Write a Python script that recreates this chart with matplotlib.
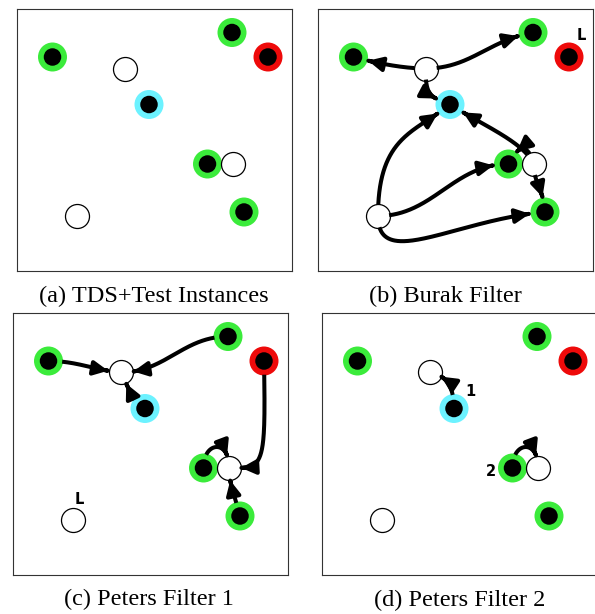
import numpy as np
import matplotlib
matplotlib.use("Agg")
import matplotlib.pyplot as plt
from matplotlib.patches import FancyArrowPatch, ArrowStyle
from matplotlib.path import Path

# ---------------- data ----------------
# node positions (x, y) in panel units (y measured downward from top)
node_x = [35.5, 107.5, 132.0, 215.0, 251.0, 190.5, 215.5, 227.0, 60.0]
node_y = [48.0, 59.5, 95.5, 23.5, 48.0, 155.0, 155.0, 203.0, 207.0]
# node kind: 'g' green, 'w' white (test), 'c' cyan, 'r' red
node_kind = ['g', 'w', 'c', 'g', 'r', 'g', 'w', 'g', 'w']

captions = ["(a) TDS+Test Instances", "(b) Burak Filter",
            "(c) Peters Filter 1", "(d) Peters Filter 2"]

# edges per panel: (source, target)
edges_b = [(1, 0), (1, 3), (1, 2), (8, 2), (8, 5), (8, 7), (6, 2), (6, 5), (6, 7)]
edges_c = [(0, 1), (3, 1), (2, 1), (4, 6), (5, 6), (7, 6)]
edges_d = [(2, 1), (5, 6)]

# curve shape (control offsets from source and target) -- styling
shape_b = [((-22, 0), (22, 6)), ((45, 0), (-45, 8)), ((0, 30), (-18, -8)),
           ((0, -80), (-35, 28)), ((55, 0), (-55, 0)), ((0, 55), (-90, 8)),
           ((-10, -22), (35, 22)), ((-5, -22), (8, -18)), ((0, 18), (0, -18))]
shape_c = [((28, 0), (-28, -3)), ((-45, 0), (45, 0)), ((-14, -8), (6, 9)),
           ((2, 110), (35, 0)), ((0, -28), (2, -28)), ((-3, -12), (0, 12))]
shape_d = [((0, -25), (14, 2)), ((0, -28), (2, -28))]

labels_b = [("L", 263, 26)]
labels_c = [("L", 66, 186)]
labels_d = [("1", 148, 79), ("2", 169, 158)]

# ---------------- style ----------------
W, H = 595, 614
DPI = 100
colors = {'g': '#3BEB3B', 'c': '#6CF2FF', 'r': '#EE0A0A'}
R_RING = 14.5
R_WHITE = 12.0

fig = plt.figure(figsize=(W / DPI, H / DPI), dpi=DPI)

boxes = [(17, 9), (318, 9), (13, 313), (322, 313)]
BW, BH = 275, 262


def pt(px):
    return px * 72.0 / DPI


def draw_nodes(ax):
    for x, y, k in zip(node_x, node_y, node_kind):
        if k == 'w':
            ax.scatter([x], [y], s=pt(2 * R_WHITE) ** 2, c='white',
                       edgecolors='black', linewidths=0.9, zorder=3)
        else:
            ax.scatter([x], [y], s=pt(2 * R_RING) ** 2, c=colors[k],
                       edgecolors='none', zorder=3)
            ax.scatter([x], [y], s=pt(17.5) ** 2, c='black',
                       edgecolors='none', zorder=4)


def radius(i):
    return R_WHITE if node_kind[i] == 'w' else R_RING


def draw_edges(ax, edges, shapes):
    for (s, t), (d1, d2) in zip(edges, shapes):
        p0 = np.array([node_x[s], node_y[s]])
        p3 = np.array([node_x[t], node_y[t]])
        p1 = p0 + np.array(d1)
        p2 = p3 + np.array(d2)
        tt = np.linspace(0, 1, 300)[:, None]
        pts = ((1 - tt) ** 3 * p0 + 3 * (1 - tt) ** 2 * tt * p1
               + 3 * (1 - tt) * tt ** 2 * p2 + tt ** 3 * p3)
        d0 = np.hypot(*(pts - p0).T)
        dd = np.hypot(*(pts - p3).T)
        i0 = np.argmax(d0 >= radius(s) - 1)
        i1 = len(pts) - 1 - np.argmax((dd >= radius(t) + 0.5)[::-1])
        seg = pts[i0:i1 + 1]
        arr = FancyArrowPatch(path=Path(seg),
                              arrowstyle=ArrowStyle('-|>', head_length=0.85,
                                                    head_width=0.42),
                              mutation_scale=10, lw=2.9, color='black',
                              transform=ax.transData, zorder=5,
                              joinstyle='round', capstyle='butt')
        ax.add_patch(arr)


def draw_labels(ax, labels):
    for txt, x, y in labels:
        ax.text(x, y, txt, fontsize=10.5, fontweight='bold', ha='center',
                va='center', family='DejaVu Sans', zorder=6)


panel_edges = [None, (edges_b, shape_b), (edges_c, shape_c), (edges_d, shape_d)]
panel_labels = [[], labels_b, labels_c, labels_d]

for i, (bx, by) in enumerate(boxes):
    ax = fig.add_axes([bx / W, 1 - (by + BH) / H, BW / W, BH / H])
    ax.set_xlim(0, BW)
    ax.set_ylim(BH, 0)
    ax.set_xticks([])
    ax.set_yticks([])
    for sp in ax.spines.values():
        sp.set_linewidth(0.8)
        sp.set_color('#333333')
    draw_nodes(ax)
    if panel_edges[i] is not None:
        draw_edges(ax, *panel_edges[i])
    draw_labels(ax, panel_labels[i])

cap_pos = [(154, 296), (445, 296), (149, 599), (460, 600)]
for txt, (cx, cy) in zip(captions, cap_pos):
    fig.text(cx / W, 1 - cy / H, txt, fontsize=17.5, family='Liberation Serif',
             ha='center', va='center')

fig.savefig("out.png", dpi=DPI)
